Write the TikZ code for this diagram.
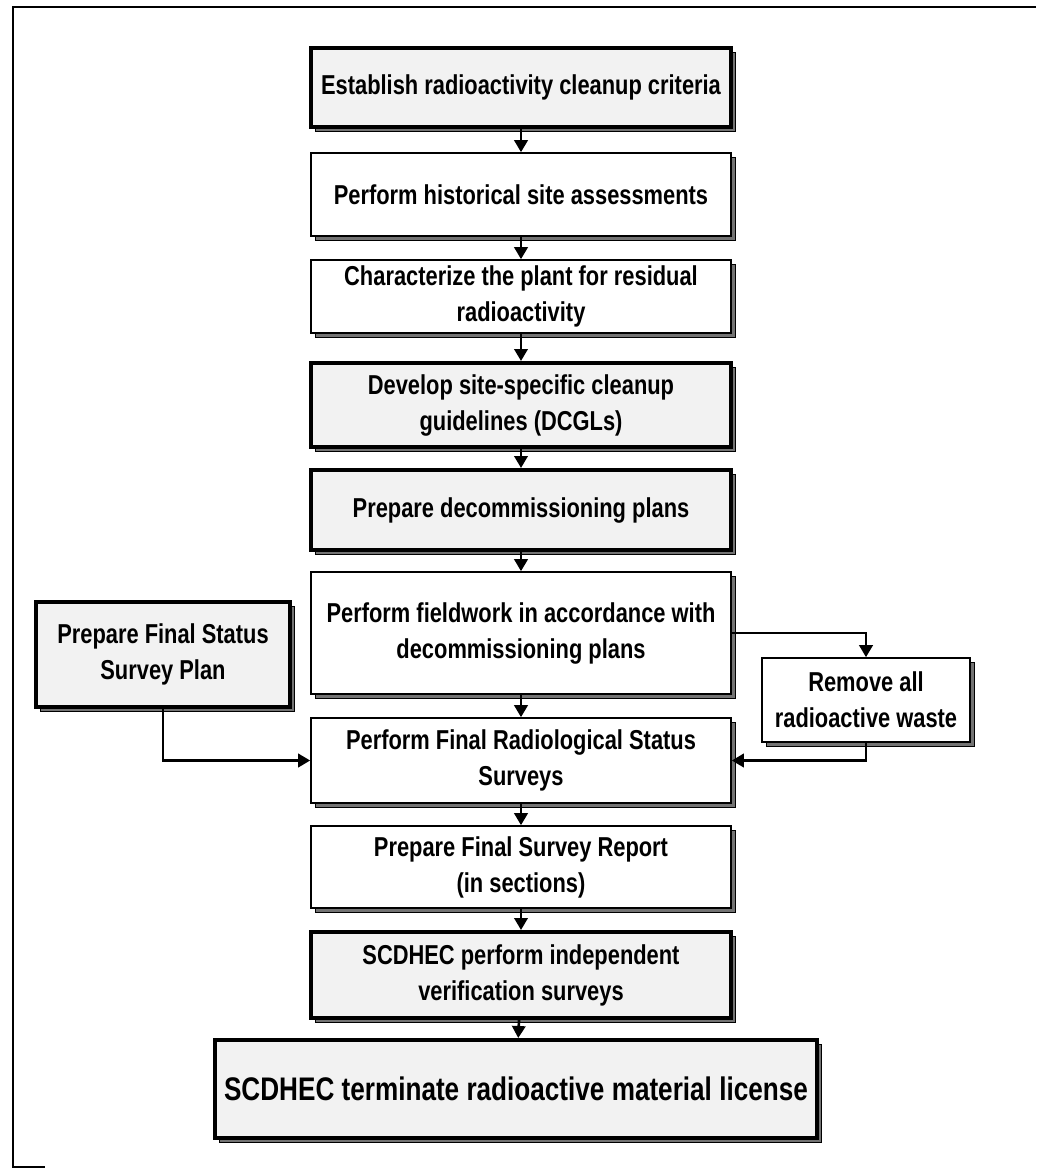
\documentclass[tikz,border=0pt]{standalone}
\usepackage{fontspec}
\newfontfamily\boxfont{Liberation Sans}[FakeStretch=0.8]
\usetikzlibrary{arrows.meta}
\usetikzlibrary{shadows}

\begin{document}
\begin{tikzpicture}[x=0.75pt,y=0.75pt,yscale=-1,xscale=1,
  stage/.style={draw, line width=1.2pt, fill=white, align=center, inner sep=0pt,
    minimum width=315pt, font=\boxfont\bfseries\fontsize{20.5}{27}\selectfont,
    copy shadow={shadow xshift=3.5pt, shadow yshift=-3.5pt, fill=black!55, draw=black, line width=0.6pt}},
  keystage/.style={stage, line width=3pt, fill=black!5},
  flow/.style={line width=2pt, -{Triangle[width=10pt,length=9pt]}}]
\useasboundingbox (0,0) rectangle (1036,1169);

%Straight Lines
\draw [line width=1.2pt] (1036,7) -- (13,7) -- (13,1167) -- (45,1167) ;

%Shape: Rectangle
\node [keystage, minimum height=59.25pt] (crit) at (521,87.5) {Establish radioactivity cleanup criteria};
%Shape: Rectangle
\node [stage, minimum height=62.25pt] (hsa) at (521,194.5) {Perform historical site assessments};
%Shape: Rectangle
\node [stage, minimum height=54.75pt] (charact) at (521,296.5) {Characterize the plant for residual\\radioactivity};
%Shape: Rectangle
\node [keystage, minimum height=63pt] (dcgl) at (521,405) {Develop site-specific cleanup\\guidelines (DCGLs)};
%Shape: Rectangle
\node [keystage, minimum height=60pt] (plans) at (521,510) {Prepare decommissioning plans};
%Shape: Rectangle
\node [stage, minimum height=91.5pt] (field) at (521,633) {Perform fieldwork in accordance with\\decommissioning plans};
%Shape: Rectangle
\node [stage, minimum height=63.75pt] (fssurvey) at (521,760.5) {Perform Final Radiological Status\\Surveys};
%Shape: Rectangle
\node [stage, minimum height=61.5pt] (report) at (521,867) {Prepare Final Survey Report\\(in sections)};
%Shape: Rectangle
\node [keystage, minimum height=64.5pt] (verify) at (521,975) {SCDHEC perform independent\\verification surveys};
%Shape: Rectangle
\node [keystage, minimum width=451.5pt, minimum height=73.5pt, font=\boxfont\bfseries\fontsize{24.5}{30}\selectfont] (license) at (516,1089) {SCDHEC terminate radioactive material license};
%Shape: Rectangle
\node [keystage, minimum width=190.5pt, minimum height=78.75pt] (fsplan) at (163,654.5) {Prepare Final Status\\Survey Plan};
%Shape: Rectangle
\node [stage, minimum width=156pt, minimum height=63pt] (waste) at (866,700) {Remove all\\radioactive waste};

%Straight Lines
\draw [flow] (crit) -- (hsa) ;
\draw [flow] (hsa) -- (charact) ;
\draw [flow] (charact) -- (dcgl) ;
\draw [flow] (dcgl) -- (plans) ;
\draw [flow] (plans) -- (field) ;
\draw [flow] (field) -- (fssurvey) ;
\draw [flow] (fssurvey) -- (report) ;
\draw [flow] (report) -- (verify) ;
\draw [flow] (verify) -- (license) ;
%Straight Lines
\draw [flow] (fsplan) |- (fssurvey) ;
%Straight Lines
\draw [flow] (field.east) -| (waste) ;
%Straight Lines
\draw [flow] (waste) |- (fssurvey) ;

\end{tikzpicture}
\end{document}
